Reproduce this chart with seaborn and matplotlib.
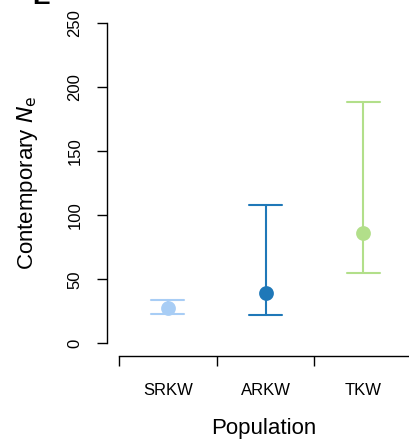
import matplotlib
matplotlib.use("Agg")
import matplotlib.pyplot as plt
import seaborn as sns
import pandas as pd

populations = ["SRKW", "ARKW", "TKW"]
ne_point = [27.5, 39.0, 86.0]
ne_lower = [22.8, 22.3, 55.0]
ne_upper = [33.7, 107.7, 188.5]
colors = ["#a8cdf5", "#1f78b8", "#b2df8a"]
y_ticks = [0, 50, 100, 150, 200, 250]

rows = []
for p, lo, pt, hi in zip(populations, ne_lower, ne_point, ne_upper):
    for v in (lo, pt, hi):
        rows.append({"Population": p, "Ne": v})
df = pd.DataFrame(rows)

sns.set_style("white")
plt.rcParams["font.family"] = ["Liberation Sans", "DejaVu Sans"]
plt.rcParams["text.color"] = "black"
plt.rcParams["axes.labelcolor"] = "black"
plt.rcParams["xtick.color"] = "black"
plt.rcParams["ytick.color"] = "black"

W, H = 409, 441
fig = plt.figure(figsize=(W / 100, H / 100), dpi=100)
ax_left, ax_right, ax_bottom, ax_top = 119, 409, 356, 10
ax = fig.add_axes([ax_left / W, 1 - ax_bottom / H, (ax_right - ax_left) / W, (ax_bottom - ax_top) / H])

sns.pointplot(
    data=df, x="Population", y="Ne", hue="Population", palette=colors,
    order=populations, hue_order=populations,
    estimator="median", errorbar=("pi", 100), capsize=0.34,
    linestyle="none", markers="o", markersize=8.6,
    err_kws={"linewidth": 1.5}, dodge=False, legend=False, ax=ax,
)

y0_px, y250_px = 343.3, 23.3
px_per_unit = (y0_px - y250_px) / 250
ax.set_ylim(-(ax_bottom - y0_px) / px_per_unit, 250 + (y250_px - ax_top) / px_per_unit)
ax.set_xlim(-0.5, -0.5 + (ax_right - ax_left) / 97.7)

for s in ["top", "right"]:
    ax.spines[s].set_visible(False)
for s in ["left", "bottom"]:
    ax.spines[s].set_color("black")
    ax.spines[s].set_linewidth(1.0)
ax.spines["left"].set_position(("outward", 12 * 0.72))
ax.spines["left"].set_bounds(0, 250)

ax.set_yticks(y_ticks)
ax.set_yticklabels([str(t) for t in y_ticks], rotation=90, va="center")
ax.tick_params(axis="y", direction="out", length=7.2, width=1.0, pad=10.5,
               labelsize=12, colors="black", left=True)

ax.set_xticks([-0.5, 0.5, 1.5])
ax.set_xticklabels([])
ax.set_xticks([0, 1, 2], minor=True)
ax.set_xticklabels(populations, minor=True)
ax.tick_params(axis="x", which="major", direction="out", length=7.2, width=1.0, bottom=True, colors="black")
ax.tick_params(axis="x", which="minor", length=0, pad=19.5, labelsize=12, colors="black")

ax.set_xlabel("Population", fontsize=16, labelpad=14, color="black")
ax.set_ylabel("Contemporary $\\mathit{N}_{\\mathrm{e}}$", fontsize=16, labelpad=20, color="black")

fig.text(32 / W, 1 - 4 / H, "E", fontsize=19, fontweight="bold", va="baseline", ha="left", color="black")

fig.savefig("out.png", dpi=100, facecolor="white")
